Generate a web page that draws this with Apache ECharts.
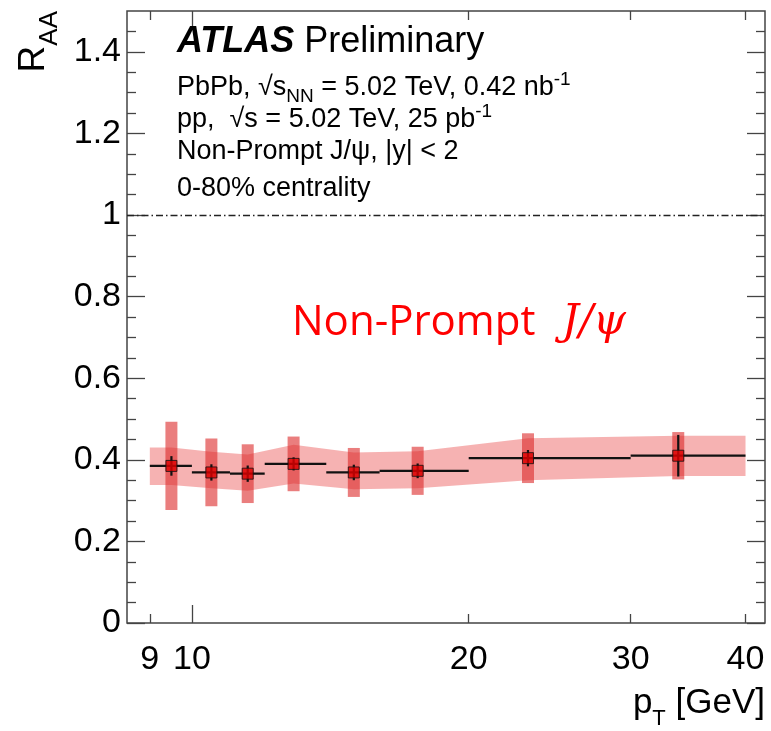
<!DOCTYPE html>
<html>
<head>
<meta charset="utf-8">
<script src="https://cdn.jsdelivr.net/npm/echarts@6/dist/echarts.min.js"></script>
<style>html,body{margin:0;padding:0;background:#fff}#c{width:771px;height:731px}</style>
</head>
<body>
<div id="c"></div>
<script>
// ---- data ----
var ptCenter = [9.5, 10.5, 11.5, 12.9, 15.0, 17.6, 23.2, 33.8];
var binLow   = [9, 10, 11, 12, 14, 16, 20, 30];
var binHigh  = [10, 11, 12, 14, 16, 20, 30, 40];
var raa      = [0.385, 0.369, 0.366, 0.390, 0.369, 0.373, 0.404, 0.410];
var statErr  = [0.024, 0.020, 0.020, 0.016, 0.019, 0.018, 0.020, 0.051];
var sysErr   = [0.108, 0.083, 0.072, 0.067, 0.060, 0.059, 0.061, 0.058];
var bandX    = [9, 9.5, 10.5, 11.5, 12.9, 15.0, 17.6, 23.2, 33.8, 40];
var bandLow  = [0.338, 0.338, 0.330, 0.324, 0.342, 0.328, 0.330, 0.350, 0.360, 0.360];
var bandHigh = [0.430, 0.430, 0.420, 0.413, 0.437, 0.418, 0.421, 0.453, 0.459, 0.459];
var xTickLabels = [9, 10, 20, 30, 40];
var xMinorTicks = [9, 20, 30, 40];
var xMajorTicks = [10];
var yTickLabels = [0, 0.2, 0.4, 0.6, 0.8, 1, 1.2, 1.4];
var yMinorTicks = [0.05,0.1,0.15,0.25,0.3,0.35,0.45,0.5,0.55,0.65,0.7,0.75,0.85,0.9,0.95,1.05,1.1,1.15,1.25,1.3,1.35,1.45];
var unityLine = 1;

var FONT = '"Liberation Sans", Arial, Helvetica, sans-serif';
var TICKC = '#444';

function xAxisDef(pos, ticks, len, labels) {
  return {
    type: 'log', logBase: 10, min: 8.5, max: 42, position: pos,
    axisLine: { show: false, onZero: false },
    splitLine: { show: false },
    axisTick: { show: true, inside: true, length: len, customValues: ticks, lineStyle: { color: TICKC, width: 1.3 } },
    axisLabel: labels ? {
      show: true, customValues: labels, margin: 20,
      fontFamily: FONT, fontSize: 34, color: '#000',
      formatter: function (v) { return String(Math.round(v)); }
    } : { show: false }
  };
}
function yAxisDef(pos, ticks, len, labels) {
  return {
    type: 'value', min: 0, max: 1.5, position: pos,
    axisLine: { show: false, onZero: false },
    splitLine: { show: false },
    axisTick: { show: true, inside: true, length: len, customValues: ticks, lineStyle: { color: TICKC, width: 1.3 } },
    axisLabel: labels ? {
      show: true, customValues: labels, margin: 6,
      fontFamily: FONT, fontSize: 34, color: '#000',
      formatter: function (v) { return String(v); }
    } : { show: false }
  };
}

var chart = echarts.init(document.getElementById('c'), null, { renderer: 'canvas' });

var option = {
  animation: false,
  backgroundColor: '#fff',
  grid: {
    left: 127, right: 6, top: 11, bottom: 108,
    containLabel: false, outerBoundsMode: 'none',
    show: true, borderColor: '#444', borderWidth: 1.5, backgroundColor: 'transparent'
  },
  xAxis: [
    xAxisDef('bottom', xMinorTicks, 9, xTickLabels),
    xAxisDef('bottom', xMajorTicks, 18, null),
    xAxisDef('top', xMinorTicks, 9, null),
    xAxisDef('top', xMajorTicks, 18, null)
  ],
  yAxis: [
    yAxisDef('left', yTickLabels, 18, yTickLabels),
    yAxisDef('left', yMinorTicks, 9, null),
    yAxisDef('right', yTickLabels, 18, null),
    yAxisDef('right', yMinorTicks, 9, null)
  ],
  series: [
    {
      // systematic band (light)
      type: 'custom', name: 'band', clip: true,
      data: bandX.map(function (x, i) { return [x, bandLow[i], bandHigh[i]]; }),
      renderItem: function (params, api) {
        if (params.dataIndex !== 0) return null;
        var pts = [];
        for (var i = 0; i < bandX.length; i++) pts.push(api.coord([bandX[i], bandHigh[i]]));
        for (var j = bandX.length - 1; j >= 0; j--) pts.push(api.coord([bandX[j], bandLow[j]]));
        return { type: 'polygon', shape: { points: pts }, style: { fill: 'rgba(235,85,85,0.45)' } };
      },
      markLine: {
        silent: true, symbol: 'none', animation: false,
        label: { show: false },
        lineStyle: { color: '#222', width: 1.3, type: [7, 3, 1.5, 3] },
        data: [{ yAxis: unityLine }]
      }
    },
    {
      // point-by-point systematic boxes (dark)
      type: 'custom', name: 'sys', clip: true,
      data: ptCenter.map(function (x, i) { return [x, raa[i] - sysErr[i], raa[i] + sysErr[i]]; }),
      renderItem: function (params, api) {
        var lo = api.coord([api.value(0), api.value(1)]);
        var hi = api.coord([api.value(0), api.value(2)]);
        var w = 12;
        return { type: 'rect', shape: { x: lo[0] - w / 2, y: hi[1], width: w, height: lo[1] - hi[1] },
                 style: { fill: 'rgba(220,40,40,0.6)' } };
      }
    },
    {
      // error bars: bin width (horizontal) and statistical (vertical)
      type: 'custom', name: 'err', clip: true,
      data: ptCenter.map(function (x, i) { return [x, raa[i], binLow[i], binHigh[i], raa[i] - statErr[i], raa[i] + statErr[i]]; }),
      renderItem: function (params, api) {
        var l = api.coord([api.value(2), api.value(1)]);
        var r = api.coord([api.value(3), api.value(1)]);
        var b = api.coord([api.value(0), api.value(4)]);
        var t = api.coord([api.value(0), api.value(5)]);
        var st = { stroke: '#111', lineWidth: 2.2 };
        return { type: 'group', children: [
          { type: 'line', shape: { x1: l[0], y1: l[1], x2: r[0], y2: r[1] }, style: st },
          { type: 'line', shape: { x1: b[0], y1: b[1], x2: t[0], y2: t[1] }, style: st }
        ] };
      }
    },
    {
      type: 'scatter', name: 'RAA',
      symbol: 'rect', symbolSize: 11,
      itemStyle: { color: '#e00000', borderColor: '#111', borderWidth: 1 },
      data: ptCenter.map(function (x, i) { return [x, raa[i]]; }),
      z: 5
    }
  ],
  graphic: [
    {
      type: 'text', left: 15, top: 11, rotation: Math.PI / 2, z: 10,
      style: {
        text: '{r|R}{s|AA}',
        rich: {
          r: { fontFamily: FONT, fontSize: 37, fill: '#000', lineHeight: 48, verticalAlign: 'top' },
          s: { fontFamily: FONT, fontSize: 26, fill: '#000', lineHeight: 48, verticalAlign: 'bottom' }
        }
      }
    },
    {
      type: 'text', x: 177, y: 42, z: 10,
      style: {
        text: '{a|ATLAS}{b| Preliminary}', verticalAlign: 'middle',
        rich: {
          a: { fontFamily: FONT, fontSize: 36, fontWeight: 'bold', fontStyle: 'italic', fill: '#000' },
          b: { fontFamily: FONT, fontSize: 36, fill: '#000' }
        }
      }
    },
    {
      type: 'text', x: 177, y: 88, z: 10,
      style: {
        text: '{t|PbPb, √}{t|s}{sub|NN}{t| = 5.02 TeV, 0.42 nb}{sup|-1}', verticalAlign: 'middle',
        rich: {
          t: { fontFamily: FONT, fontSize: 27, fill: '#000', lineHeight: 36, verticalAlign: 'middle' },
          sub: { fontFamily: FONT, fontSize: 19, fill: '#000', lineHeight: 22, verticalAlign: 'bottom' },
          sup: { fontFamily: FONT, fontSize: 19, fill: '#000', lineHeight: 22, verticalAlign: 'top' }
        }
      }
    },
    {
      type: 'text', x: 177, y: 120, z: 10,
      style: {
        text: '{t|pp,  √s = 5.02 TeV, 25 pb}{sup|-1}', verticalAlign: 'middle',
        rich: {
          t: { fontFamily: FONT, fontSize: 27, fill: '#000', lineHeight: 36, verticalAlign: 'middle' },
          sup: { fontFamily: FONT, fontSize: 19, fill: '#000', lineHeight: 22, verticalAlign: 'top' }
        }
      }
    },
    {
      type: 'text', x: 177, y: 152, z: 10,
      style: {
        text: 'Non-Prompt J/ψ, |y| < 2', verticalAlign: 'middle',
        fontFamily: FONT, fontSize: 27, fill: '#000'
      }
    },
    {
      type: 'text', x: 177, y: 189, z: 10,
      style: {
        text: '0-80% centrality', verticalAlign: 'middle',
        fontFamily: FONT, fontSize: 27, fill: '#000'
      }
    },
    {
      type: 'text', x: 292, y: 323, z: 10,
      style: {
        text: '{a|Non-Prompt}{b|  J/ψ}', verticalAlign: 'middle',
        rich: {
          a: { fontFamily: '"Open Sans", "Noto Sans", sans-serif', fontSize: 42, fill: '#ff0000' },
          b: { fontFamily: '"DejaVu Serif", serif', fontStyle: 'italic', fontSize: 42, fill: '#ff0000' }
        }
      }
    },
    {
      type: 'text', right: 6, top: 686, z: 10,
      style: {
        text: '{t|p}{sub|T}{t| [GeV]}',
        rich: {
          t: { fontFamily: FONT, fontSize: 35, fill: '#000', lineHeight: 44, verticalAlign: 'top' },
          sub: { fontFamily: FONT, fontSize: 22, fill: '#000', lineHeight: 44, verticalAlign: 'bottom' }
        }
      }
    }
  ]
};
chart.setOption(option);
</script>
</body>
</html>
